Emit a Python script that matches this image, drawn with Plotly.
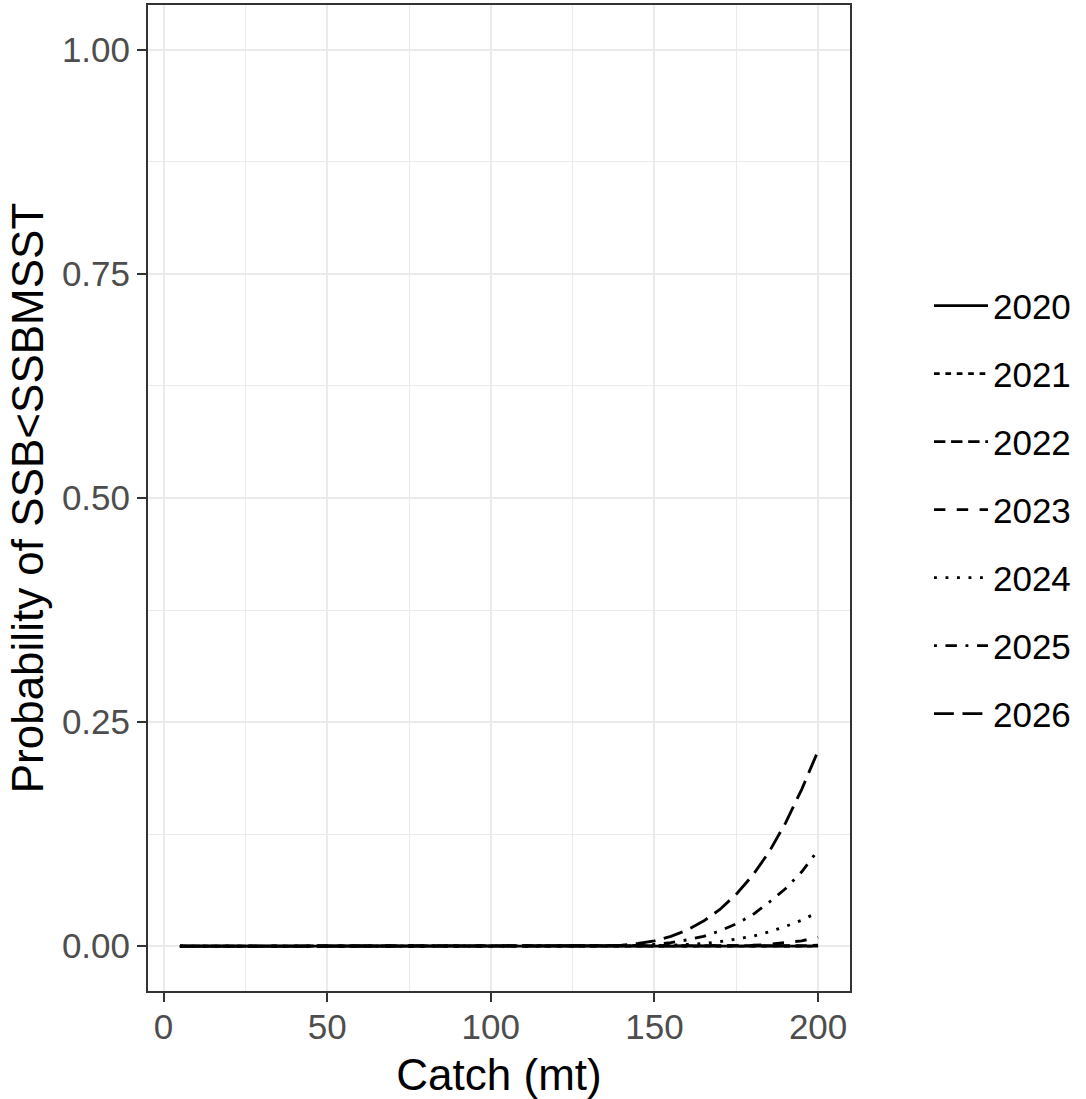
import plotly.graph_objects as go

# catch levels (mt)
catch = [5, 10, 15, 20, 25, 30, 35, 40, 45, 50,
         55, 60, 65, 70, 75, 80, 85, 90, 95, 100,
         105, 110, 115, 120, 125, 130, 135, 140, 145, 150,
         155, 160, 165, 170, 175, 180, 185, 190, 195, 200]

# probability of SSB < SSB_MSST, one list per year
prob_2020 = [0, 0, 0, 0, 0, 0, 0, 0, 0, 0,
             0, 0, 0, 0, 0, 0, 0, 0, 0, 0,
             0, 0, 0, 0, 0, 0, 0, 0, 0, 0,
             0, 0, 0, 0, 0, 0, 0, 0, 0, 0]
prob_2021 = [0, 0, 0, 0, 0, 0, 0, 0, 0, 0,
             0, 0, 0, 0, 0, 0, 0, 0, 0, 0,
             0, 0, 0, 0, 0, 0, 0, 0, 0, 0,
             0, 0, 0, 0, 0, 0, 0, 0, 0, 0]
prob_2022 = [0, 0, 0, 0, 0, 0, 0, 0, 0, 0,
             0, 0, 0, 0, 0, 0, 0, 0, 0, 0,
             0, 0, 0, 0, 0, 0, 0, 0, 0, 0,
             0, 0, 0, 0, 0, 0, 0.0001, 0.0002, 0.0005, 0.001]
prob_2023 = [0, 0, 0, 0, 0, 0, 0, 0, 0, 0,
             0, 0, 0, 0, 0, 0, 0, 0, 0, 0,
             0, 0, 0, 0, 0, 0, 0, 0, 0, 0,
             0, 0, 0.0001, 0.0003, 0.0006, 0.001, 0.002, 0.004, 0.006, 0.010]
prob_2024 = [0, 0, 0, 0, 0, 0, 0, 0, 0, 0,
             0, 0, 0, 0, 0, 0, 0, 0, 0, 0,
             0, 0, 0, 0, 0, 0, 0, 0, 0, 0.0003,
             0.001, 0.002, 0.003, 0.005, 0.008, 0.011, 0.016, 0.022, 0.029, 0.038]
prob_2025 = [0, 0, 0, 0, 0, 0, 0, 0, 0, 0,
             0, 0, 0, 0, 0, 0, 0, 0, 0, 0,
             0, 0, 0, 0, 0, 0, 0, 0.0005, 0.001, 0.002,
             0.004, 0.007, 0.011, 0.017, 0.025, 0.035, 0.049, 0.064, 0.083, 0.107]
prob_2026 = [0, 0, 0, 0, 0, 0, 0, 0, 0, 0,
             0, 0, 0, 0, 0, 0, 0, 0, 0, 0,
             0, 0, 0, 0, 0, 0, 0.0005, 0.001, 0.003, 0.006,
             0.011, 0.018, 0.028, 0.041, 0.058, 0.079, 0.105, 0.137, 0.175, 0.218]

years = ["2020", "2021", "2022", "2023", "2024", "2025", "2026"]
probs = [prob_2020, prob_2021, prob_2022, prob_2023, prob_2024, prob_2025, prob_2026]

x_ticks = [0, 50, 100, 150, 200]
y_ticks = [0, 0.25, 0.5, 0.75, 1.0]

# ggplot-style linetypes (solid, 22, 42, 44, 13, 1343, 73) scaled by line width
lw = 2.85
u = lambda n: f"{n * lw:.1f}px"
dashes = ["solid",
          f"{u(2)},{u(2)}",
          f"{u(4)},{u(2)}",
          f"{u(4)},{u(4)}",
          f"{u(1)},{u(3)}",
          f"{u(1)},{u(3)},{u(4)},{u(3)}",
          f"{u(7)},{u(3)}"]

FONT = "Arial, Liberation Sans, sans-serif"
TITLE_SIZE = 44
TEXT_SIZE = 35

fig = go.Figure()
for year, p, dash in zip(years, probs, dashes):
    fig.add_trace(go.Scatter(
        x=catch, y=p, mode="lines", name=year, legendgroup=year,
        line=dict(color="black", width=lw, dash=dash),
    ))

axis_common = dict(
    showgrid=True, gridcolor="#EBEBEB", gridwidth=2,
    zeroline=False,
    showline=True, mirror=True, linecolor="#333333", linewidth=2,
    ticks="outside", ticklen=9, tickwidth=2, tickcolor="#333333",
    tickfont=dict(family=FONT, size=TEXT_SIZE, color="#4D4D4D"),
)

fig.update_xaxes(
    **axis_common,
    range=[-4.75, 209.75], tickvals=x_ticks, ticklabelstandoff=-5,
    minor=dict(tickvals=[25, 75, 125, 175], showgrid=True,
               gridcolor="#EBEBEB", gridwidth=1, ticks=""),
    title=dict(text="Catch (mt)", font=dict(family=FONT, size=TITLE_SIZE, color="black"),
               standoff=14),
)
fig.update_yaxes(
    **axis_common,
    range=[-0.05, 1.05], tickvals=y_ticks, tickformat=".2f",
    minor=dict(tickvals=[0.125, 0.375, 0.625, 0.875], showgrid=True,
               gridcolor="#EBEBEB", gridwidth=1, ticks=""),
    title=dict(text="Probability of SSB<SSBMSST",
               font=dict(family=FONT, size=TITLE_SIZE, color="black"), standoff=4),
)

fig.update_layout(
    width=1086, height=1099,
    margin=dict(l=148, r=236, t=5, b=108, autoexpand=False),
    plot_bgcolor="white", paper_bgcolor="white",
    font=dict(family=FONT),
    legend=dict(
        x=1.1125, y=0.488, xanchor="left", yanchor="middle",
        font=dict(family=FONT, size=TEXT_SIZE, color="black"),
        itemwidth=54, tracegroupgap=19.5, bgcolor="rgba(0,0,0,0)",
    ),
)

# drop the default 8px body margin so the figure fills the window
fig.write_html("out.html", config={"displayModeBar": False},
               post_script="document.body.style.margin = '0';")
